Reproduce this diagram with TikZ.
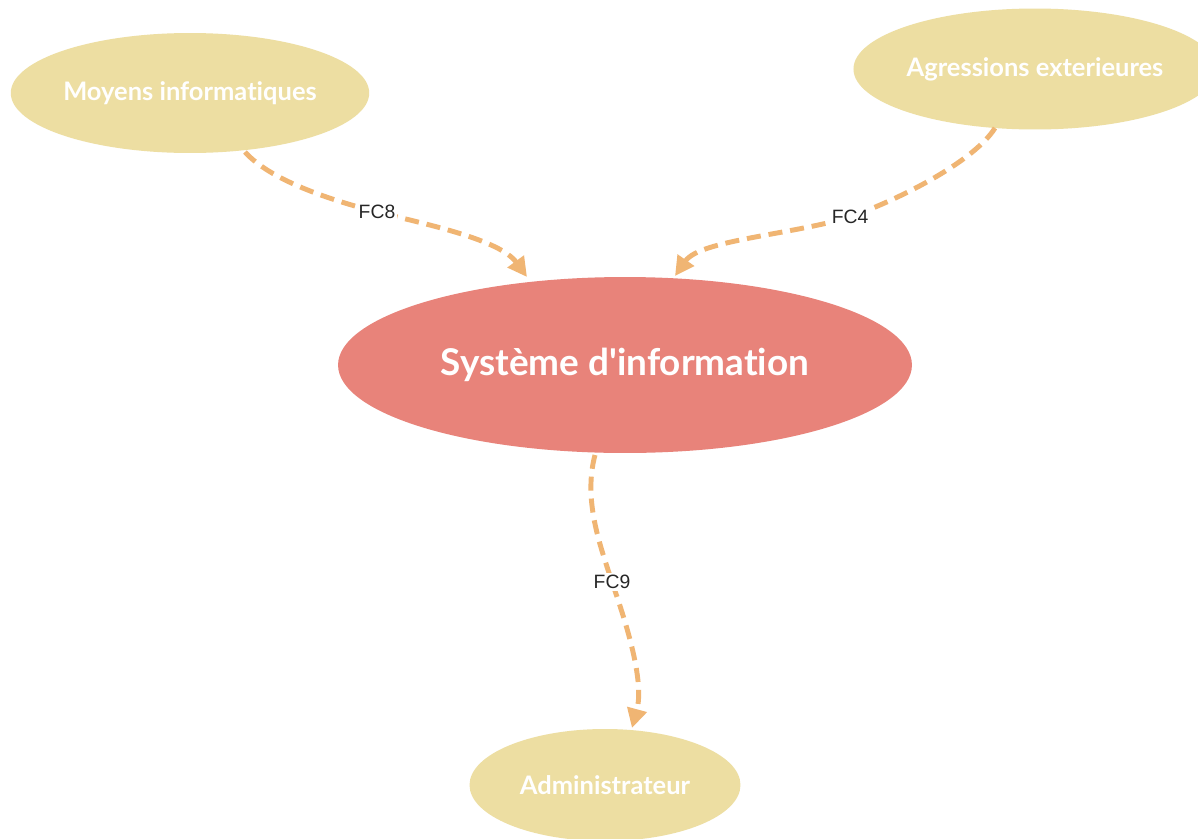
\documentclass[tikz,border=0pt]{standalone}
\usepackage{fontspec}
\setmainfont{Lato}[Ligatures=NoCommon]
\newfontfamily\labelfont{Liberation Sans}
\usetikzlibrary{shapes.geometric,arrows.meta}
\definecolor{sand}{HTML}{EDDEA2}
\definecolor{salmon}{HTML}{E8837A}
\definecolor{peach}{HTML}{F0B573}
\tikzset{
  px/.style={x=0.02cm,y=-0.02cm},
  actor/.style={ellipse,fill=sand,text=white,font=\bfseries\fontsize{14.5}{16}\selectfont,inner sep=0pt},
  core/.style={ellipse,fill=salmon,text=white,font=\bfseries\fontsize{21}{24}\selectfont,inner sep=0pt},
  flow/.style={draw=peach,line width=2.8pt,dash pattern=on 8pt off 4.5pt,
    -{Triangle[length=11pt,width=11pt,fill=peach]}},
  flowlabel/.style={font=\labelfont\fontsize{11}{13}\selectfont,text=black!85,fill=white,inner sep=1pt}
}
\begin{document}
\begin{tikzpicture}[px]
  \useasboundingbox (0,0) rectangle (1198,839);
  \fill[white] (0,0) rectangle (1198,839);

  \node[actor,minimum width=7.08cm,minimum height=2.4cm] (moyens) at (190,93) {Moyens informatiques};
  \node[actor,minimum width=7.2cm,minimum height=2.42cm] (agress) at (1035,69) {Agressions exterieures};
  \node[core,minimum width=11.48cm,minimum height=3.52cm] (si) at (625,365) {Système d\textquotesingle information};
  \node[actor,minimum width=5.42cm,minimum height=2.24cm] (admin) at (605,785) {Administrateur};

  % end points of the flows on the ellipse borders
  \coordinate (m0) at (245,152);
  \coordinate (m1) at (527,277);
  \coordinate (a0) at (995,128);
  \coordinate (a1) at (675,276);
  \coordinate (s0) at (595,455);
  \coordinate (s1) at (632,728);
  % label anchors along the flows
  \coordinate (l8) at (377,212);
  \coordinate (l4) at (850,217);
  \coordinate (l9) at (612,582);

  \draw[flow] (m0) .. controls (270,180) and (330,200) .. (l8)
    .. controls (430,225) and (500,240) .. (m1);
  \draw[flow] (a0) .. controls (975,160) and (905,197) .. (l4)
    .. controls (790,235) and (700,240) .. (a1);
  \draw[flow] (s0) .. controls (583,500) and (600,545) .. (l9)
    .. controls (625,620) and (645,680) .. (s1);

  \node[flowlabel] (fc8) at (l8) {FC8};
  \node[flowlabel] (fc4) at (l4) {FC4};
  \node[flowlabel] (fc9) at (l9) {FC9};
\end{tikzpicture}
\end{document}
